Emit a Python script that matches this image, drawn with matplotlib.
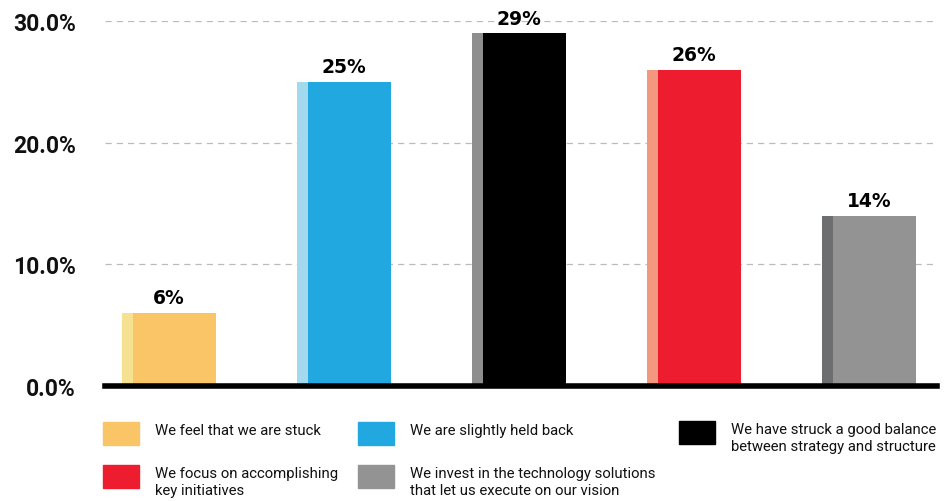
import matplotlib
matplotlib.use("Agg")
import matplotlib.pyplot as plt
from matplotlib.patches import Rectangle
from matplotlib.ticker import FuncFormatter

categories = [
    "We feel that we are stuck",
    "We are slightly held back",
    "We have struck a good balance\nbetween strategy and structure",
    "We focus on accomplishing\nkey initiatives",
    "We invest in the technology solutions\nthat let us execute on our vision",
]
values = [6, 25, 29, 26, 14]
face_colors = ["#F9C567", "#22A8E0", "#000000", "#ED1C2E", "#939393"]
side_colors = ["#F5E191", "#A3D9EC", "#8E8E8E", "#F4977F", "#6D6E70"]
y_ticks = [0, 10, 20, 30]

W, H = 951, 502
fig = plt.figure(figsize=(W / 100, H / 100), dpi=100)
ax = fig.add_axes([105 / W, 1 - 387 / H, (937 - 105) / W, (387 - 22) / H])

bar_w = 0.537
side_w = 0.063
xs = list(range(len(values)))

ax.bar(xs, values, width=bar_w, color=face_colors, zorder=3)
ax.bar([x - bar_w / 2 for x in xs], values, width=side_w, align="edge",
       color=side_colors, zorder=4)

for x, v in zip(xs, values):
    ax.annotate(f"{v}%", (x, v), xytext=(0, 4), textcoords="offset points",
                ha="center", va="bottom", fontsize=13.5, fontweight="bold",
                family="DejaVu Sans", color="#000000")

ax.set_xlim(-0.366, 4.386)
ax.set_ylim(0, 30)
ax.set_yticks(y_ticks)
ax.yaxis.set_major_formatter(FuncFormatter(lambda v, _: f"{v:.1f}%"))
ax.set_xticks([])
ax.tick_params(axis="y", length=0, pad=21)
for lab in ax.get_yticklabels():
    lab.set_fontsize(16.5)
    lab.set_fontweight("bold")
    lab.set_family("Roboto")
    lab.set_color("#111111")

ax.yaxis.grid(True, linestyle=(0, (5, 4)), color="#BBBBBB", linewidth=0.9, zorder=0)
for s in ["top", "right", "left"]:
    ax.spines[s].set_visible(False)
ax.spines["bottom"].set_linewidth(4)
ax.spines["bottom"].set_color("#000000")
ax.spines["bottom"].set_zorder(5)

# legend laid out in a grid: row, column -> pixel positions
legend_pos = [(103, 423), (358, 423), (679, 422), (103, 466), (358, 466)]
for (px, py), label, col in zip(legend_pos, categories, face_colors):
    fig.add_artist(Rectangle((px / W, 1 - (py + 23) / H), 36 / W, 23 / H,
                             transform=fig.transFigure, color=col))
    fig.text((px + 52) / W, 1 - (py + 1) / H, label, ha="left", va="top",
             fontsize=10.7, family="Roboto", color="#111111", linespacing=1.3)

fig.savefig("out.png", dpi=100)
